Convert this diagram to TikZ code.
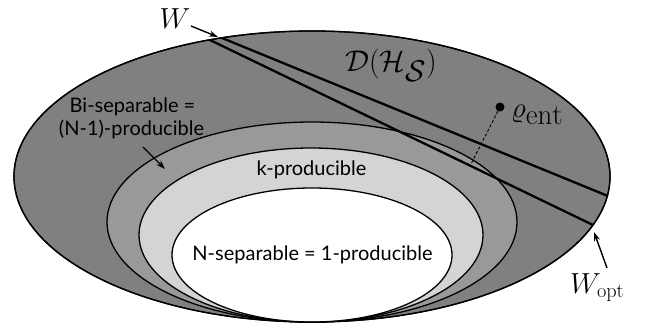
\RequirePackage{fix-cm}
\documentclass[tikz,border=0pt]{standalone}
\usepackage{fontspec}
\setsansfont{Lato}
\usetikzlibrary{arrows.meta,calc}
\definecolor{gOuter}{gray}{0.50}
\definecolor{gBi}{gray}{0.60}
\definecolor{gK}{gray}{0.83}
\tikzset{
  region/.style={draw=black, line width=1.3pt},
  wline/.style={line width=2.3pt, black},
  pointer/.style={line width=1.4pt, -{Stealth[length=9pt,width=6pt]}},
  setlabel/.style={font=\sffamily\fontsize{20}{24}\selectfont, inner sep=0pt, anchor=base},
  mathlabel/.style={font=\fontsize{29}{32}\selectfont, inner sep=0pt}
}
\begin{document}
\begin{tikzpicture}[x=1pt,y=-1pt]
\useasboundingbox (0,0) rectangle (650,332);
% regions
\draw[region, fill=gOuter] (312,176.5) ellipse [x radius=298, y radius=145.5];
\draw[region, fill=gBi] (312,222) ellipse [x radius=205, y radius=100];
\draw[region, fill=gK] (311,235) ellipse [x radius=172, y radius=87];
\draw[region, fill=white] (312,255) ellipse [x radius=140, y radius=67];
% witness lines clipped to the outer set
\begin{scope}
  \clip (312,176.5) ellipse [x radius=298, y radius=145.5];
  \coordinate (u1) at (222,38);
  \coordinate (u2) at (603,194);
  \coordinate (l1) at (212,41);
  \coordinate (l2) at (593,225);
  \draw[wline] ($(u1)!-0.2!(u2)$) -- ($(u1)!1.2!(u2)$);
  \draw[wline] ($(l1)!-0.2!(l2)$) -- ($(l1)!1.2!(l2)$);
\end{scope}
% outline again on top
\draw[region] (312,176.5) ellipse [x radius=298, y radius=145.5];
% entangled state
\node[circle, fill=black, inner sep=0pt, minimum size=9pt] (rho) at (500,107) {};
\node[mathlabel, anchor=base west] (rholab) at (511,117) {$\varrho_{\textstyle\mathrm{ent}}$};
\coordinate (proj) at (471,164);
\draw[line width=0.9pt, densely dashed] (rho) -- (proj);
% labels
\node[mathlabel, anchor=base, font=\fontsize{30}{32}\selectfont] (D) at (391,71) {$\mathcal{D}(\mathcal{H}_{\textstyle\mathcal{S}})$};
\node[mathlabel, anchor=base] (W) at (175,28) {$W$};
\coordinate (Wtip) at (218,37);
\draw[pointer] (191,26) -- (Wtip);
\node[mathlabel, anchor=base west] (Wopt) at (570,293) {$W_{\mathrm{opt}}$};
\coordinate (Wopttip) at (594,232);
\draw[pointer] (607,268) -- (Wopttip);
\node[setlabel] (bi1) at (132.5,112) {Bi-separable =};
\node[setlabel] (bi2) at (131.5,135) {(N-1)-producible};
\coordinate (bitip) at (165,169);
\draw[pointer] (143,147) -- (bitip);
\node[setlabel] (k) at (311.5,175) {k-producible};
\node[setlabel] (N) at (312.5,260) {N-separable = 1-producible};
\end{tikzpicture}
\end{document}
